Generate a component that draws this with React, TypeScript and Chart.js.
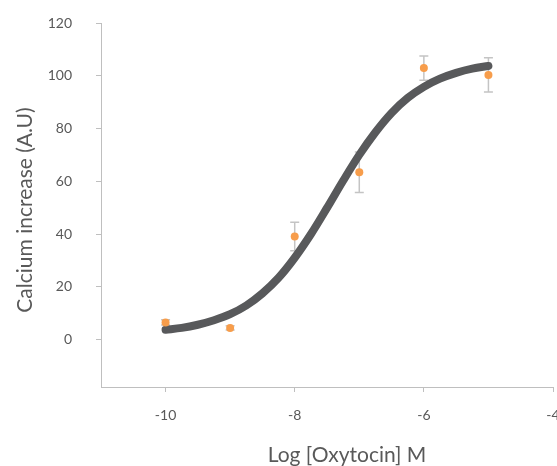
import React, { useEffect, useRef } from 'react';
import { Chart, registerables } from 'chart.js';

Chart.register(...registerables);

// Measured points (log dose, response, symmetric error)
const doseLogs = [-10, -9, -8, -7, -6, -5];
const responses = [6.5, 4.4, 39.1, 63.4, 102.9, 100.3];
const errors = [1.0, 0.8, 5.4, 7.7, 4.6, 6.5];

// Fitted curve
const fitLogs = [-10, -9.75, -9.5, -9.25, -9, -8.75, -8.5, -8.25, -8, -7.75, -7.5, -7.25, -7, -6.75, -6.5, -6.25, -6, -5.75, -5.5, -5.25, -5];
const fitValues = [3.7, 4.4, 5.6, 7.3, 9.6, 12.9, 17.5, 23.4, 31.0, 39.9, 49.9, 60.2, 70.0, 78.6, 85.9, 91.6, 95.8, 98.9, 101.1, 102.7, 103.7];

const xTickValues = [-10, -8, -6, -4];
const yTickValues = [0, 20, 40, 60, 80, 100, 120];

const xTitle = 'Log [Oxytocin] M';
const yTitle = 'Calcium increase (A.U)';

const TEXT = '#595959';
const AXIS = '#bfbfbf';
const FONT = 'Lato';

const errorBarPlugin = {
  id: 'errorBars',
  beforeDatasetsDraw(chart: any) {
    const { ctx, scales } = chart;
    const xs = scales.x;
    const ys = scales.y;
    ctx.save();
    ctx.strokeStyle = '#c4c4c4';
    ctx.lineWidth = 1.5;
    doseLogs.forEach((d, i) => {
      const px = xs.getPixelForValue(d);
      const top = ys.getPixelForValue(responses[i] + errors[i]);
      const bot = ys.getPixelForValue(responses[i] - errors[i]);
      ctx.beginPath();
      ctx.moveTo(px, top);
      ctx.lineTo(px, bot);
      ctx.moveTo(px - 4.5, top);
      ctx.lineTo(px + 4.5, top);
      ctx.moveTo(px - 4.5, bot);
      ctx.lineTo(px + 4.5, bot);
      ctx.stroke();
    });
    ctx.restore();
  },
};

const titlePlugin = {
  id: 'axisTitles',
  afterDraw(chart: any) {
    const { ctx, chartArea } = chart;
    ctx.save();
    ctx.fillStyle = TEXT;
    ctx.font = `21px ${FONT}`;
    ctx.textAlign = 'center';
    ctx.textBaseline = 'alphabetic';
    ctx.fillText(xTitle, (chartArea.left + chartArea.right) / 2 + 20, 462);
    ctx.translate(32, (chartArea.top + chartArea.bottom) / 2 + 5);
    ctx.rotate(-Math.PI / 2);
    ctx.fillText(yTitle, 0, 0);
    ctx.restore();
  },
};

export default function App() {
  const ref = useRef<HTMLCanvasElement | null>(null);

  useEffect(() => {
    if (!ref.current) return;
    const chart = new Chart(ref.current, {
      type: 'scatter',
      data: {
        datasets: [
          {
            label: 'Data',
            data: doseLogs.map((d, i) => ({ x: d, y: responses[i] })),
            backgroundColor: '#f79d4b',
            borderWidth: 0,
            pointRadius: 4,
          },
          {
            label: 'Fit',
            data: fitLogs.map((d, i) => ({ x: d, y: fitValues[i] })),
            showLine: true,
            borderColor: '#58595b',
            borderWidth: 8,
            borderCapStyle: 'round',
            borderJoinStyle: 'round',
            pointRadius: 0,
            tension: 0.4,
            cubicInterpolationMode: 'monotone',
          } as any,
        ],
      },
      options: {
        responsive: false,
        animation: false,
        layout: { padding: { top: 23, right: 4, left: 0, bottom: 0 } },
        plugins: { legend: { display: false }, tooltip: { enabled: false } },
        scales: {
          x: {
            type: 'linear',
            min: -11,
            max: -4,
            afterBuildTicks: (s: any) => {
              s.ticks = xTickValues.map((v) => ({ value: v }));
            },
            afterFit: (s: any) => {
              s.height = 79;
              s.paddingLeft = 0;
              s.paddingRight = 0;
            },
            grid: { drawOnChartArea: false, tickLength: 5, color: AXIS },
            border: { color: AXIS, width: 1 },
            ticks: { color: TEXT, font: { family: FONT, size: 14 }, padding: 15, maxRotation: 0, autoSkip: false },
          },
          y: {
            type: 'linear',
            min: -18,
            max: 120,
            afterBuildTicks: (s: any) => {
              s.ticks = yTickValues.map((v) => ({ value: v }));
            },
            afterFit: (s: any) => {
              s.width = 101;
              s.paddingTop = 0;
              s.paddingBottom = 0;
            },
            grid: { drawOnChartArea: false, tickLength: 5, color: AXIS },
            border: { color: AXIS, width: 1 },
            ticks: { color: TEXT, font: { family: FONT, size: 14 }, padding: 24, autoSkip: false },
          },
        },
      },
      plugins: [errorBarPlugin, titlePlugin],
    } as any);
    return () => chart.destroy();
  }, []);

  return (
    <div style={{ position: 'fixed', left: 0, top: 0, width: 557, height: 466, background: '#fff' }}>
      <canvas ref={ref} width={557} height={466} style={{ display: 'block' }} />
    </div>
  );
}
